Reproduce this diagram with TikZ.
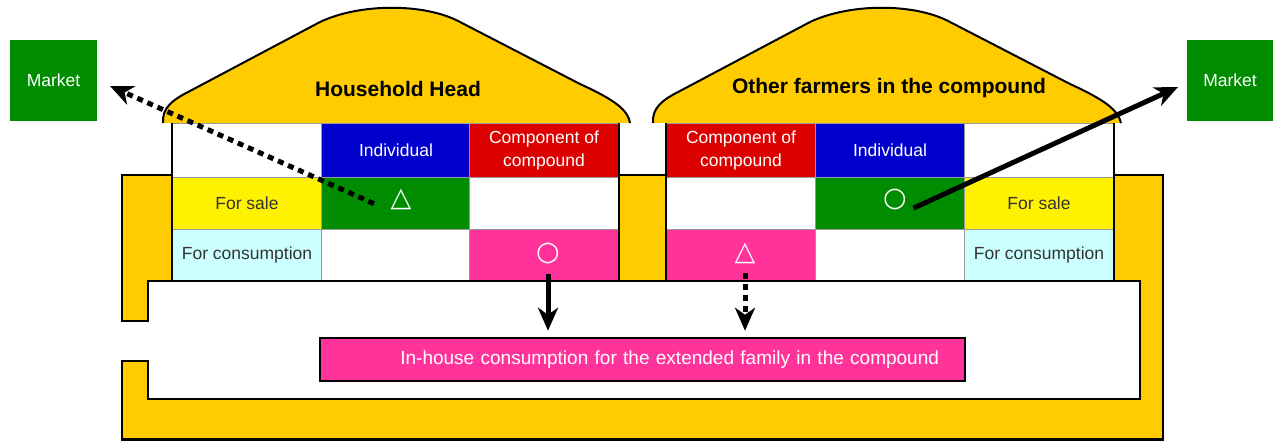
\documentclass[tikz,border=0pt]{standalone}
\usepackage{fontspec}
\setmainfont{Liberation Sans}
\newfontfamily\symfont{DejaVu Sans}
\usetikzlibrary{arrows.meta}

\definecolor{wallyellow}{HTML}{FFCC00}
\definecolor{indblue}{HTML}{0000CC}
\definecolor{comred}{HTML}{DD0000}
\definecolor{mktgreen}{HTML}{008C00}
\definecolor{saleyellow}{HTML}{FFF200}
\definecolor{conscyan}{HTML}{CCFFFF}
\definecolor{conspink}{HTML}{FF3399}

\tikzset{
  cell/.style={draw=gray!80, line width=0.8pt, minimum width=149pt, minimum height=52pt, inner sep=0pt, align=center, font=\fontsize{17.5}{23}\selectfont, text=black!80},
  head/.style={cell, minimum height=54pt, text=white},
  market/.style={fill=mktgreen, text=white, minimum width=87pt, minimum height=81pt, font=\fontsize{17.5}{20}\selectfont},
  title/.style={font=\bfseries\fontsize{21}{24}\selectfont},
  symb/.style={text=white, inner sep=1pt, font=\symfont\fontsize{27}{28}\selectfont},
  wall/.style={fill=wallyellow, draw=black, line width=2.5pt},
  roof/.style={fill=wallyellow, draw=black, line width=2pt},
  famBox/.style={fill=conspink, draw=black, line width=2.5pt, minimum height=43pt, text width=593pt, inner xsep=26pt, align=right, text=white, font=\fontsize{19}{22}\selectfont},
  sold/.style={line width=5pt, -{Stealth[length=23pt,width=20pt,inset=7pt]}},
  given/.style={sold, dash pattern=on 6pt off 5pt},
}

\begin{document}
\begin{tikzpicture}[x=1pt, y=-1pt]
\fill[white] (0,0) rectangle (1273,441);
\useasboundingbox (0,0) rectangle (1273,441);

% compound wall
\filldraw[wall] (122,175) -- (1163,175) -- (1163,439.5) -- (122,439.5) -- (122,361) -- (148,361) -- (148,399) -- (1140,399) -- (1140,281) -- (148,281) -- (148,321) -- (122,321) -- cycle;

% roofs
\filldraw[roof] (163,123) .. controls (162,108) and (172,100) .. (190,91) -- (320,22) .. controls (360,3) and (425,3) .. (460,22) -- (580,84) .. controls (615,100) and (628,110) .. (630,123);
\filldraw[roof] (653,123) .. controls (652,108) and (662,100) .. (680,91) -- (810,22) .. controls (850,3) and (915,3) .. (950,22) -- (1070,84) .. controls (1105,100) and (1118,110) .. (1121,123);
\node[title] (hh) at (398,89) {Household Head};
\node[title] (of) at (889,88) {Other farmers in the compound};

% household head
\node[head, fill=white] (hL1) at (247,150) {};
\node[head, fill=indblue] (hL2) at (396,150) {Individual};
\node[head, fill=comred] (hL3) at (544,150) {Component of\\compound};
\node[cell, fill=saleyellow] (sL1) at (247,203) {For sale};
\node[cell, fill=mktgreen] (sL2) at (396,203) {};
\node[cell, fill=white] (sL3) at (544,203) {};
\node[cell, fill=conscyan] (cL1) at (247,255) {For consumption};
\node[cell, fill=white] (cL2) at (396,255) {};
\node[cell, fill=conspink] (cL3) at (544,255) {};

% other farmers
\node[head, fill=comred] (hR1) at (741,150) {Component of\\compound};
\node[head, fill=indblue] (hR2) at (890,150) {Individual};
\node[head, fill=white] (hR3) at (1039,150) {};
\node[cell, fill=white] (sR1) at (741,203) {};
\node[cell, fill=mktgreen] (sR2) at (890,203) {};
\node[cell, fill=saleyellow] (sR3) at (1039,203) {For sale};
\node[cell, fill=conspink] (cR1) at (741,255) {};
\node[cell, fill=white] (cR2) at (890,255) {};
\node[cell, fill=conscyan] (cR3) at (1039,255) {For consumption};

\draw[line width=2pt] (hL1.north west) -- (cL1.south west);
\draw[line width=2pt] (hL3.north east) -- (cL3.south east);
\draw[line width=2pt] (hR1.north west) -- (cR1.south west);
\draw[line width=2pt] (hR3.north east) -- (cR3.south east);
\draw[line width=2.5pt] (148,281) -- (1140,281);

\node[symb] (triL) at (401,199) {△};
\node[symb] (circL) at (548,253) {○};
\node[symb] (circR) at (895,199) {○};
\node[symb] (triR) at (745,253) {△};

\node[market] (mktL) at (53.5,80.5) {Market};
\node[market] (mktR) at (1230,80.5) {Market};
\node[famBox] (fam) at (642.5,359.5) {In-house consumption for the extended family in the compound};

\coordinate (tipL) at (110,86);
\coordinate (tipR) at (1178,87);
\draw[given, shorten <=17pt] (triL.south west) -- (tipL);
\draw[sold, shorten <=6pt] (circR.south east) -- (tipR);
\draw[sold, shorten <=9pt, shorten >=6pt] (circL.south) -- (circL.south |- fam.north);
\draw[given, shorten <=8pt, shorten >=6pt] (triR.south) -- (triR.south |- fam.north);
\end{tikzpicture}
\end{document}
